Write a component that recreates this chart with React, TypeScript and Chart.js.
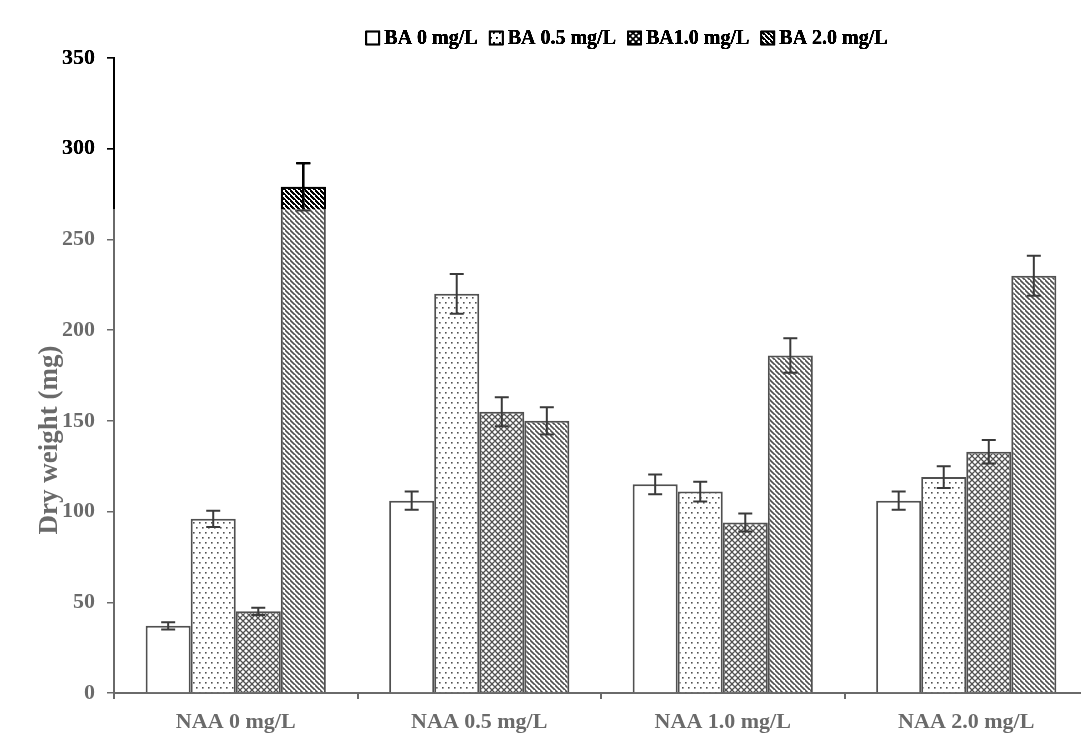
import React, { useEffect, useRef } from "react";
import { Chart, registerables } from "chart.js";

Chart.register(...registerables);

const categories = ["NAA 0 mg/L", "NAA 0.5 mg/L", "NAA 1.0 mg/L", "NAA 2.0 mg/L"];
const seriesLabels = ["BA 0 mg/L", "BA 0.5 mg/L", "BA1.0 mg/L", "BA 2.0 mg/L"];
const ba0 = [37, 106, 115, 106];
const ba05 = [96, 220, 111, 119];
const ba10 = [45, 155, 94, 133];
const ba20 = [279, 150, 186, 230];
const ba0Err = [2, 5, 5.5, 5];
const ba05Err = [4.5, 11, 5.5, 6];
const ba10Err = [2, 8, 5, 6.5];
const ba20Err = [13, 7.5, 9.5, 11];
const yTicks = [0, 50, 100, 150, 200, 250, 300, 350];

const GRAY = "#6a6a6a";
const INK = "#505050";
const SERIF = "'Liberation Serif', 'Times New Roman', serif";

function makePattern(kind: string): CanvasPattern | string {
  const c = document.createElement("canvas");
  let s = 6;
  if (kind === "dots") { c.width = 6; c.height = 10; }
  else if (kind === "cross") { s = 6; c.width = s; c.height = s; }
  else if (kind === "diag") { s = 5; c.width = s; c.height = s; }
  else { c.width = 4; c.height = 4; }
  const g = c.getContext("2d")!;
  g.fillStyle = "#ffffff";
  g.fillRect(0, 0, c.width, c.height);
  g.strokeStyle = INK;
  g.fillStyle = INK;
  if (kind === "dots") {
    g.fillRect(1, 2, 1.6, 1.6);
    g.fillRect(4, 7, 1.6, 1.6);
  } else if (kind === "cross") {
    g.lineWidth = 1.3;
    g.beginPath();
    g.moveTo(-1, -1); g.lineTo(s + 1, s + 1);
    g.moveTo(-1, s + 1); g.lineTo(s + 1, -1);
    g.moveTo(-s / 2 - 1, s / 2 - 1); g.lineTo(s / 2 + 1, s * 1.5 + 1);
    g.moveTo(s / 2 - 1, -s / 2 - 1); g.lineTo(s * 1.5 + 1, s / 2 + 1);
    g.moveTo(-s / 2 - 1, s / 2 + 1); g.lineTo(s / 2 + 1, -s / 2 - 1);
    g.moveTo(s / 2 - 1, s * 1.5 + 1); g.lineTo(s * 1.5 + 1, s / 2 - 1);
    g.stroke();
  } else if (kind === "diag") {
    g.lineWidth = 1.6;
    g.beginPath();
    g.moveTo(-1, -1); g.lineTo(s + 1, s + 1);
    g.moveTo(-s - 1, -1); g.lineTo(1, s + 1);
    g.moveTo(s - 1, -s - 1); g.lineTo(s * 2 + 1, s + 1);
    g.stroke();
  }
  const p = g.createPattern(c, "repeat");
  return p || "#ffffff";
}

export default function App() {
  const ref = useRef<HTMLCanvasElement>(null);

  useEffect(() => {
    const canvas = ref.current!;
    const fills = [makePattern("none"), makePattern("dots"), makePattern("cross"), makePattern("diag")];
    const values = [ba0, ba05, ba10, ba20];
    const errs = [ba0Err, ba05Err, ba10Err, ba20Err];

    const bgPlugin = {
      id: "bg",
      beforeDraw(chart: any) {
        const ctx = chart.ctx;
        ctx.save();
        ctx.fillStyle = "#ffffff";
        ctx.fillRect(0, 0, chart.width, chart.height);
        ctx.restore();
      },
    };

    const errPlugin = {
      id: "errbars",
      afterDatasetsDraw(chart: any) {
        const ctx = chart.ctx;
        const y = chart.scales.y;
        ctx.save();
        ctx.strokeStyle = "#3a3a3a";
        ctx.lineWidth = 2;
        chart.data.datasets.forEach((ds: any, di: number) => {
          const meta = chart.getDatasetMeta(di);
          meta.data.forEach((bar: any, i: number) => {
            const v = ds.data[i];
            const e = errs[di][i];
            const top = y.getPixelForValue(v + e);
            const bot = y.getPixelForValue(v - e);
            const x = bar.x;
            const cap = 7;
            ctx.beginPath();
            ctx.moveTo(x, top); ctx.lineTo(x, bot);
            ctx.moveTo(x - cap, top); ctx.lineTo(x + cap, top);
            ctx.moveTo(x - cap, bot); ctx.lineTo(x + cap, bot);
            ctx.stroke();
          });
        });
        ctx.restore();
      },
    };

    const legendPlugin = {
      id: "customLegend",
      afterDraw(chart: any) {
        const ctx = chart.ctx;
        ctx.save();
        ctx.font = `bold 20px ${SERIF}`;
        const box = 13, gapBox = 5, gapItem = 12;
        const widths = seriesLabels.map((t) => ctx.measureText(t).width);
        const total = widths.reduce((a, w) => a + box + gapBox + w, 0) + gapItem * (seriesLabels.length - 1);
        let x = 627 - total / 2;
        const yMid = 38;
        seriesLabels.forEach((t, i) => {
          ctx.fillStyle = fills[i] as any;
          ctx.fillRect(x, yMid - box / 2, box, box);
          ctx.strokeStyle = "#000";
          ctx.lineWidth = 1.5;
          ctx.strokeRect(x, yMid - box / 2, box, box);
          ctx.fillStyle = "#000";
          ctx.textBaseline = "middle";
          ctx.textAlign = "left";
          ctx.fillText(t, x + box + gapBox, yMid + 1);
          x += box + gapBox + widths[i] + gapItem;
        });
        ctx.restore();
      },
    };

    const yTitlePlugin = {
      id: "yTitle",
      afterDraw(chart: any) {
        const ctx = chart.ctx;
        ctx.save();
        ctx.translate(50, 440);
        ctx.rotate(-Math.PI / 2);
        ctx.font = `bold 27px ${SERIF}`;
        ctx.fillStyle = GRAY;
        ctx.textAlign = "center";
        ctx.textBaseline = "middle";
        ctx.fillText("Dry weight (mg)", 0, 0);
        ctx.restore();
      },
    };

    const burnPlugin = {
      id: "burn",
      afterDraw(chart: any) {
        const ctx = chart.ctx;
        ctx.save();
        ctx.globalCompositeOperation = "color-burn";
        ctx.fillStyle = "rgb(110,110,110)";
        ctx.fillRect(0, 0, chart.width, 209);
        ctx.restore();
      },
    };

    const chart = new Chart(canvas, {
      type: "bar",
      data: {
        labels: categories,
        datasets: seriesLabels.map((label, i) => ({
          label,
          data: values[i],
          backgroundColor: fills[i] as any,
          borderColor: INK,
          borderWidth: 2,
          borderSkipped: "bottom",
          categoryPercentage: 0.74,
          barPercentage: 1.0,
        })),
      },
      options: {
        responsive: false,
        animation: false,
        devicePixelRatio: 1,
        layout: { padding: { top: 58, right: 12, left: 0, bottom: 0 } },
        plugins: {
          legend: { display: false },
          title: { display: false },
          tooltip: { enabled: false },
        },
        scales: {
          x: {
            afterFit(scale: any) { scale.height = 49; },
            border: { color: GRAY, width: 2 },
            grid: { display: true, drawOnChartArea: false, drawTicks: true, tickLength: 6, color: GRAY, lineWidth: 2, offset: true },
            ticks: {
              color: GRAY,
              padding: 10,
              font: { family: SERIF, size: 22, weight: "bold" },
              maxRotation: 0,
            },
          },
          y: {
            min: 0,
            max: 350,
            afterFit(scale: any) { scale.width = 114; },
            afterBuildTicks(scale: any) { scale.ticks = yTicks.map((v) => ({ value: v })); },
            border: { color: GRAY, width: 2 },
            grid: { display: true, drawOnChartArea: false, drawTicks: true, tickLength: 7, color: GRAY, lineWidth: 1.5 },
            ticks: {
              color: GRAY,
              padding: 12,
              font: { family: SERIF, size: 22, weight: "bold" },
            },
          },
        },
      },
      plugins: [bgPlugin, errPlugin, legendPlugin, yTitlePlugin, burnPlugin],
    } as any);

    return () => chart.destroy();
  }, []);

  return (
    <div style={{ position: "fixed", left: 0, top: 0, width: 1081, height: 742, overflow: "hidden", background: "#fff" }}>
      <canvas ref={ref} width={1100} height={742} style={{ width: 1100, height: 742, display: "block" }} />
    </div>
  );
}
